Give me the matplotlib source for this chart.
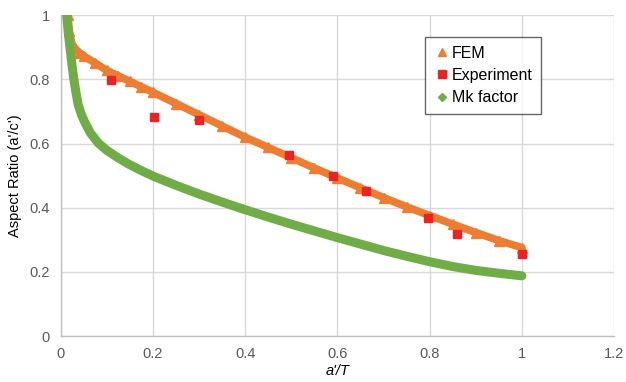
import matplotlib.pyplot as plt
from matplotlib.lines import Line2D

plt.rcParams['font.family'] = 'Liberation Sans'

# values
fem_x = [0.015, 0.019, 0.024, 0.03, 0.04, 0.05, 0.075, 0.1, 0.125, 0.15, 0.175,
         0.2, 0.25, 0.3, 0.35, 0.4, 0.45, 0.5, 0.55, 0.6, 0.65, 0.7, 0.75,
         0.8, 0.85, 0.9, 0.95, 1.0]
fem_y = [1.0, 0.95, 0.912, 0.898, 0.884, 0.873, 0.851, 0.828, 0.811, 0.794, 0.777,
         0.76, 0.725, 0.69, 0.655, 0.62, 0.588, 0.556, 0.524, 0.493, 0.462,
         0.432, 0.403, 0.376, 0.349, 0.323, 0.298, 0.276]

exp_x = [0.108, 0.202, 0.299, 0.495, 0.59, 0.662, 0.796, 0.859, 1.0]
exp_y = [0.798, 0.683, 0.673, 0.564, 0.499, 0.452, 0.368, 0.318, 0.256]

mk_x = [0.013, 0.016, 0.02, 0.024, 0.028, 0.033, 0.038, 0.045, 0.053, 0.065,
        0.082, 0.1, 0.121, 0.145, 0.172, 0.2, 0.25, 0.3, 0.35, 0.4, 0.45,
        0.5, 0.55, 0.6, 0.65, 0.7, 0.75, 0.8, 0.85, 0.9, 0.95, 1.0]
mk_y = [1.0, 0.95, 0.9, 0.85, 0.805, 0.76, 0.72, 0.69, 0.664, 0.632,
        0.601, 0.579, 0.559, 0.538, 0.518, 0.499, 0.47, 0.443, 0.418, 0.394, 0.371,
        0.349, 0.328, 0.307, 0.287, 0.267, 0.249, 0.232, 0.217, 0.205, 0.196, 0.188]

x_ticks = [0, 0.2, 0.4, 0.6, 0.8, 1, 1.2]
y_ticks = [0, 0.2, 0.4, 0.6, 0.8, 1]

orange = '#ED7D31'
red = '#EE2222'
green = '#70AD47'

fig = plt.figure(figsize=(6.26, 3.82), dpi=100)
ax = fig.add_axes([0.097, 0.12, 0.884, 0.84])

# FEM band (dense triangles in the original)
ax.plot(fem_x, fem_y, '-', color=orange, linewidth=5.5, solid_capstyle='round',
        solid_joinstyle='round', zorder=2)
ax.plot(fem_x, fem_y, '^', color=orange, markersize=6.5, zorder=2)

# Mk factor band
ax.plot(mk_x, mk_y, '-', color=green, linewidth=6.5, solid_capstyle='round',
        solid_joinstyle='round', zorder=3)

# experiment squares
ax.plot(exp_x, exp_y, 's', color=red, markersize=6, linestyle='none', zorder=4)

ax.set_xlim(0, 1.2)
ax.set_ylim(0, 1)
ax.set_xticks(x_ticks)
ax.set_yticks(y_ticks)
ax.set_xticklabels(['0', '0.2', '0.4', '0.6', '0.8', '1', '1.2'])
ax.set_yticklabels(['0', '0.2', '0.4', '0.6', '0.8', '1'])
ax.tick_params(length=0, labelsize=10.5, labelcolor='#595959', pad=8)
ax.grid(True, color='#d9d9d9', linewidth=1)
ax.set_axisbelow(True)
for s in ['top', 'right']:
    ax.spines[s].set_visible(False)
for s in ['left', 'bottom']:
    ax.spines[s].set_color('#bfbfbf')
    ax.spines[s].set_linewidth(1)

ax.set_xlabel("a'/T", fontsize=10.5, style='italic', labelpad=2)
ax.set_ylabel("Aspect Ratio (a'/c')", fontsize=10.5, labelpad=5)

handles = [Line2D([], [], marker='^', color=orange, linestyle='none', markersize=6),
           Line2D([], [], marker='s', color=red, linestyle='none', markersize=6),
           Line2D([], [], marker='D', color=green, linestyle='none', markersize=4)]
leg = ax.legend(handles, ['FEM', 'Experiment', 'Mk factor'],
                loc='upper left', bbox_to_anchor=(0.659, 0.932), fontsize=11.5,
                frameon=True, fancybox=False, handletextpad=0.1,
                handlelength=1, borderpad=0.55, labelspacing=0.45,
                borderaxespad=0)
leg.get_frame().set_edgecolor('#404040')
leg.get_frame().set_linewidth(1)

fig.savefig('out.png', dpi=100)
